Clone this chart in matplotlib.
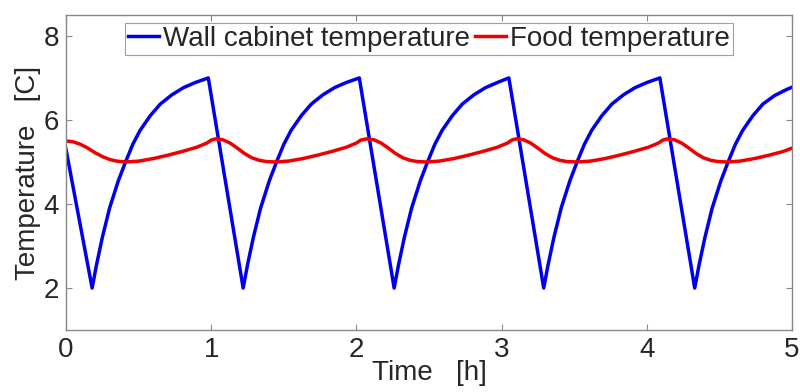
import matplotlib.pyplot as plt

plt.rcParams["font.family"] = ["Liberation Sans", "DejaVu Sans"]

# wall cabinet temperature
wall_t = [0.0, 0.18,
          0.21, 0.25, 0.30, 0.36, 0.41, 0.46, 0.51, 0.58, 0.65, 0.73, 0.81, 0.89, 0.98,
          1.22,
          1.25, 1.29, 1.34, 1.40, 1.45, 1.50, 1.55, 1.62, 1.69, 1.77, 1.85, 1.93, 2.02,
          2.26,
          2.29, 2.33, 2.38, 2.44, 2.49, 2.54, 2.59, 2.66, 2.73, 2.81, 2.89, 2.97, 3.05,
          3.29,
          3.32, 3.36, 3.41, 3.47, 3.52, 3.57, 3.62, 3.69, 3.76, 3.84, 3.92, 4.00, 4.09,
          4.33,
          4.36, 4.40, 4.45, 4.51, 4.56, 4.61, 4.66, 4.73, 4.80, 4.88, 4.96, 5.0]
wall_temp = [5.3, 2.0,
             2.55, 3.2, 3.9, 4.55, 5.0, 5.42, 5.75, 6.1, 6.38, 6.6, 6.77, 6.89, 7.0,
             2.0,
             2.55, 3.2, 3.9, 4.55, 5.0, 5.42, 5.75, 6.1, 6.38, 6.6, 6.77, 6.89, 7.0,
             2.0,
             2.55, 3.2, 3.9, 4.55, 5.0, 5.42, 5.75, 6.1, 6.38, 6.6, 6.77, 6.89, 7.0,
             2.0,
             2.55, 3.2, 3.9, 4.55, 5.0, 5.42, 5.75, 6.1, 6.38, 6.6, 6.77, 6.89, 7.0,
             2.0,
             2.55, 3.2, 3.9, 4.55, 5.0, 5.42, 5.75, 6.1, 6.38, 6.58, 6.72, 6.78]

# food temperature
food_t = [0.0, 0.05, 0.10, 0.15, 0.20, 0.25, 0.30, 0.35, 0.41, 0.50, 0.60,
          0.70, 0.80, 0.90, 0.97, 1.00, 1.03,
          1.08, 1.13, 1.18, 1.23, 1.28, 1.33, 1.38, 1.44, 1.53, 1.63,
          1.73, 1.83, 1.93, 2.00, 2.03, 2.07,
          2.12, 2.17, 2.22, 2.27, 2.32, 2.37, 2.42, 2.48, 2.57, 2.67,
          2.77, 2.87, 2.97, 3.04, 3.07, 3.10,
          3.15, 3.20, 3.25, 3.30, 3.35, 3.40, 3.45, 3.52, 3.61, 3.71,
          3.81, 3.91, 4.01, 4.08, 4.11, 4.14,
          4.19, 4.24, 4.29, 4.34, 4.39, 4.44, 4.49, 4.55, 4.64, 4.74,
          4.84, 4.94, 5.0]
food_temp = [5.50, 5.48, 5.42, 5.33, 5.22, 5.13, 5.06, 5.02, 5.00, 5.02, 5.08,
             5.16, 5.25, 5.35, 5.45, 5.52, 5.55,
             5.53, 5.45, 5.33, 5.20, 5.10, 5.04, 5.01, 5.00, 5.02, 5.08,
             5.16, 5.25, 5.35, 5.45, 5.52, 5.55,
             5.53, 5.45, 5.33, 5.20, 5.10, 5.04, 5.01, 5.00, 5.02, 5.08,
             5.16, 5.25, 5.35, 5.45, 5.52, 5.55,
             5.53, 5.45, 5.33, 5.20, 5.10, 5.04, 5.01, 5.00, 5.02, 5.08,
             5.16, 5.25, 5.35, 5.45, 5.52, 5.55,
             5.53, 5.45, 5.33, 5.20, 5.10, 5.04, 5.01, 5.00, 5.02, 5.08,
             5.16, 5.25, 5.33]

x_ticks = [0, 1, 2, 3, 4, 5]
y_ticks = [2, 4, 6, 8]

fig = plt.figure(figsize=(8, 3.92), dpi=100)
ax = fig.add_axes([0.0825, 0.158, 0.9075, 0.804])

ax.plot(wall_t, wall_temp, color="#0000ee", linewidth=2.5,
        label="Wall cabinet temperature")
ax.plot(food_t, food_temp, color="#ee0000", linewidth=2.5,
        label="Food temperature")

ax.set_xlim(0, 5)
ax.set_ylim(1, 8.5)
ax.set_xticks(x_ticks)
ax.set_yticks(y_ticks)
ax.tick_params(direction="in", top=True, right=True, length=4, width=0.8,
               colors="#888888", labelcolor="#262626", labelsize=20, pad=5)
for s in ax.spines.values():
    s.set_color("#888888")
    s.set_linewidth(1.0)

ax.set_xlabel("Time   [h]", fontsize=20, color="#262626", labelpad=-2)
ax.set_ylabel("Temperature   [C]", fontsize=20, color="#262626", labelpad=2)

leg = ax.legend(loc="upper center", ncol=2, fontsize=20, frameon=True,
                fancybox=False, edgecolor="#888888", handlelength=1.1,
                handletextpad=0.15, columnspacing=0.2, borderpad=0.1,
                borderaxespad=0.3, bbox_to_anchor=(0.5, 1.0))
leg.get_frame().set_linewidth(0.8)
for txt in leg.get_texts():
    txt.set_color("#262626")

fig.savefig("out.png", dpi=100)
